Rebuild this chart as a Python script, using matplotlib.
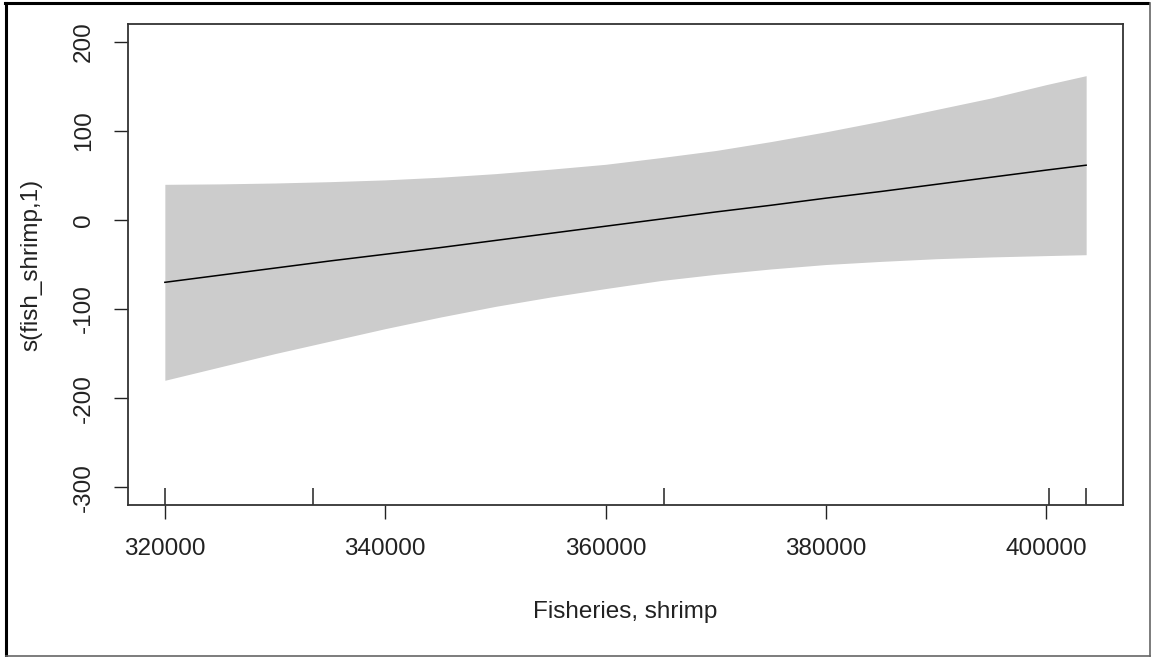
import matplotlib
matplotlib.use("Agg")
import matplotlib.pyplot as plt
import matplotlib.transforms as mtransforms
from matplotlib.lines import Line2D

plt.rcParams['font.family'] = ['Liberation Sans', 'DejaVu Sans']

# values (gam smooth term with 2 s.e. band)
fish_shrimp = [320000, 325000, 330000, 335000, 340000, 345000, 350000, 355000, 360000,
               365000, 370000, 375000, 380000, 385000, 390000, 395000, 400000, 403600]
fit = [-70, -62, -54, -46, -38.5, -31, -23, -15, -7, 1, 9, 16.5, 24.5, 32, 40, 48, 56, 61.5]
upper = [40, 40.5, 41.5, 43, 45, 48, 52, 57, 62.5, 70, 78, 88, 99, 111, 124, 137, 152, 162]
lower = [-180, -165, -150, -136, -122, -109, -97, -86.5, -77, -68, -61, -55, -50, -46.5, -43.5, -41.5, -40, -39]
rug_x = [320000, 333400, 365300, 400200, 403600]

x_ticks = [320000, 340000, 360000, 380000, 400000]
y_ticks = [-300, -200, -100, 0, 100, 200]

W, H = 1152, 657
fig = plt.figure(figsize=(W / 100, H / 100), dpi=100)
ax = fig.add_axes([128 / W, 1 - 505 / H, (1123 - 128) / W, (505 - 24) / H])

ax.fill_between(fish_shrimp, lower, upper, color='#cccccc', linewidth=0)
ax.plot(fish_shrimp, fit, color='black', linewidth=1.1)

# rug
trans = mtransforms.blended_transform_factory(ax.transData, ax.transAxes)
ax.vlines(rug_x, 0, 0.035, colors='#222222', linewidth=1.1, transform=trans)

ax.set_xlim(316656, 406944)
ax.set_ylim(-320, 220)
ax.set_xticks(x_ticks)
ax.set_xticklabels([str(v) for v in x_ticks])
ax.set_yticks(y_ticks)
ax.set_yticklabels([str(v) for v in y_ticks], rotation=90, va='center')

ax.tick_params(axis='both', direction='out', length=10, width=1.0, color='#222222',
               labelsize=17.5, labelcolor='#222222')
ax.tick_params(axis='x', pad=14)
ax.tick_params(axis='y', pad=14)
for s in ax.spines.values():
    s.set_color('#333333')
    s.set_linewidth(1.3)

ax.set_xlabel('Fisheries, shrimp', fontsize=17.5, color='#222222', va='center')
ax.xaxis.set_label_coords(0.5, -(612 - 505) / 481)
ax.set_ylabel('s(fish_shrimp,1)', fontsize=17.5, color='#222222', va='center')
ax.yaxis.set_label_coords((31 - 128) / 995, 0.5)

# screenshot frame
fig.add_artist(Line2D([5 / W, 1148 / W], [1 - 3 / H, 1 - 3 / H], color='black', linewidth=2.2,
                      transform=fig.transFigure))
fig.add_artist(Line2D([6 / W, 6 / W], [1 - 3 / H, 1 / H], color='black', linewidth=2.2,
                      transform=fig.transFigure))
fig.add_artist(Line2D([6 / W, 1150 / W], [1 / H, 1 / H], color='#666666', linewidth=1.2,
                      transform=fig.transFigure))
fig.add_artist(Line2D([1150 / W, 1150 / W], [1 / H, 1 - 3 / H], color='#666666', linewidth=1.2,
                      transform=fig.transFigure))

fig.savefig('out.png', dpi=100)
